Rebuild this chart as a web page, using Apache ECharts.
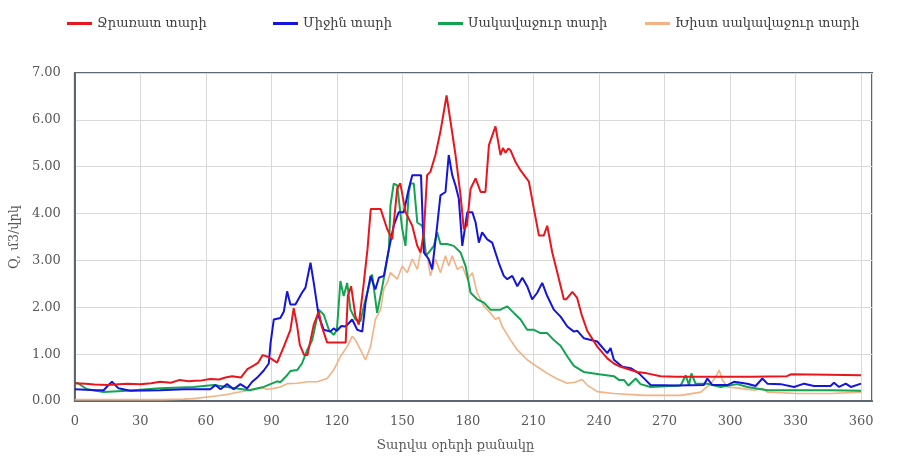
<!DOCTYPE html>
<html><head><meta charset="utf-8">
<script src="https://cdn.jsdelivr.net/npm/echarts@6/dist/echarts.min.js"></script>
<style>html,body{margin:0;padding:0;background:#fff}#c{width:897px;height:463px}</style>
</head><body><div id="c"></div>
<script>
const seriesNames = ['Ջրառատ տարի', 'Միջին տարի', 'Սակավաջուր տարի', 'Խիստ սակավաջուր տարի'];
const xTicks = [0, 30, 60, 90, 120, 150, 180, 210, 240, 270, 300, 330, 360];
const yTicks = [0, 1, 2, 3, 4, 5, 6, 7];

const wetYear = [[0,0.38],[5,0.37],[9,0.35],[15,0.34],[20,0.36],[24,0.37],[30,0.36],[35,0.38],[39,0.41],[44,0.39],[48,0.45],[52,0.42],[55,0.43],[58,0.44],[62,0.47],[66,0.46],[69,0.5],[72,0.53],[76,0.5],[79,0.68],[82,0.76],[84,0.82],[86,0.98],[88,0.95],[90,0.9],[92.6,0.82],[95.7,1.16],[98.7,1.52],[100.2,1.98],[101.8,1.6],[103,1.2],[105,0.98],[106.5,0.98],[109.4,1.63],[111.7,1.91],[113,1.6],[115.5,1.25],[124,1.25],[125,2.24],[126.5,2.45],[128.5,1.8],[130,1.63],[132.3,2.52],[134,3.24],[135.5,4.1],[140,4.1],[143,3.67],[145.3,3.45],[147.6,4.53],[149,4.65],[151.4,4.03],[154.5,3.74],[156.8,3.31],[158.3,3.17],[159.8,3.6],[161.3,4.82],[162.8,4.89],[165.1,5.25],[167.4,5.75],[170.2,6.52],[172,5.97],[174.3,5.25],[176.6,4.39],[178.1,3.67],[179.5,3.75],[181.2,4.53],[183.5,4.75],[185.8,4.46],[188,4.46],[189.6,5.46],[192.6,5.86],[194.9,5.25],[196,5.4],[197.2,5.3],[198.5,5.39],[199.5,5.35],[201.8,5.1],[204.1,4.92],[207.9,4.68],[210.2,4.1],[212.5,3.53],[214.7,3.53],[216.3,3.74],[218.6,3.17],[220.9,2.74],[223.9,2.17],[225,2.17],[227.8,2.33],[230,2.2],[232,1.85],[234.6,1.5],[239.2,1.16],[243.8,0.91],[246.8,0.8],[249.9,0.73],[257.5,0.62],[262,0.59],[268.2,0.53],[275,0.52],[290,0.52],[310,0.52],[326,0.53],[328,0.57],[345,0.56],[360,0.55]];

const averageYear = [[0,0.25],[5,0.24],[10,0.23],[13.2,0.23],[15,0.32],[17,0.41],[20,0.27],[25.4,0.22],[39,0.23],[50,0.25],[62,0.25],[64.4,0.34],[66.7,0.25],[69.7,0.36],[72.7,0.25],[75.8,0.36],[78.9,0.27],[81,0.4],[83.5,0.5],[86.5,0.65],[88.8,0.8],[89.6,1.23],[91.1,1.74],[94.1,1.77],[95.7,1.91],[97.2,2.34],[98.7,2.06],[101,2.06],[104,2.31],[105.6,2.42],[107.9,2.95],[109.4,2.52],[111.7,1.8],[114,1.52],[117,1.48],[118.5,1.55],[120,1.5],[122,1.6],[124,1.59],[127,1.74],[129.3,1.52],[131.6,1.48],[133.1,2.1],[135.4,2.67],[137.6,2.38],[139.2,2.63],[141.5,2.67],[143.8,3.24],[146,3.74],[148.3,4.03],[150.6,4.03],[152.9,4.53],[154.5,4.82],[158.5,4.82],[159.8,3.17],[162,3.03],[163.6,2.81],[165.9,3.74],[167.4,4.39],[169.7,4.46],[171.2,5.25],[172.8,4.82],[174.3,4.6],[175.8,4.32],[177.4,3.31],[179.7,4.03],[182,4.03],[183.5,3.81],[185,3.38],[186.5,3.6],[188.8,3.45],[191.1,3.38],[194.1,2.95],[196.4,2.67],[198,2.6],[200.3,2.67],[202.6,2.45],[204.9,2.63],[207.1,2.45],[209.4,2.17],[211.7,2.31],[214,2.52],[216.3,2.24],[219.3,1.95],[222.4,1.8],[225.5,1.59],[228.5,1.48],[230,1.5],[233,1.34],[239.2,1.27],[243.8,1.02],[245.3,1.13],[246.8,0.88],[250.7,0.73],[254.5,0.7],[258.3,0.59],[261.3,0.45],[263.6,0.34],[275,0.33],[288,0.34],[289.6,0.48],[291.9,0.34],[298.8,0.34],[301.8,0.41],[307.9,0.37],[311.7,0.32],[314.8,0.48],[317.1,0.37],[323.2,0.36],[329.3,0.3],[333.9,0.37],[338.4,0.32],[346,0.32],[347.6,0.39],[349.9,0.3],[353,0.37],[355.3,0.3],[360,0.37]];

const lowWaterYear = [[0,0.36],[1,0.39],[5.6,0.25],[13.2,0.19],[23.9,0.22],[39,0.27],[54.4,0.3],[63.6,0.34],[69.7,0.3],[75,0.26],[80,0.23],[86.5,0.3],[92.6,0.42],[94.1,0.4],[97.2,0.55],[98.7,0.64],[101.8,0.66],[104,0.8],[106.4,1.09],[108.7,1.3],[110.2,1.63],[111.7,1.95],[114,1.84],[116.3,1.52],[118.5,1.41],[120,1.52],[121.6,2.56],[123.1,2.24],[124.7,2.52],[126.2,1.95],[128.5,1.74],[130.8,1.7],[132.3,2.02],[134.6,2.45],[136.1,2.7],[138.4,1.88],[140.7,2.42],[142.2,2.81],[143.8,3.24],[144.5,4.17],[146,4.64],[147.6,4.6],[149.9,3.67],[151.4,3.31],[152.9,4.46],[153.7,4.64],[155.2,4.64],[156.8,3.81],[159,3.74],[159.8,3.6],[160.6,3.1],[162.1,3.17],[164.4,3.31],[165.9,3.6],[167.4,3.35],[170.5,3.35],[173.5,3.31],[176.6,3.17],[178.9,2.88],[181.2,2.31],[184.2,2.17],[187.3,2.1],[190.3,1.95],[194.9,1.95],[198,2.02],[201,1.88],[204.1,1.74],[207.1,1.52],[210.2,1.52],[213.2,1.45],[216.3,1.45],[219.3,1.3],[222.4,1.18],[225.5,0.95],[228.5,0.75],[233,0.62],[240,0.57],[246.8,0.53],[249.1,0.45],[251.4,0.45],[253.5,0.33],[256.8,0.48],[259,0.36],[263.6,0.3],[277.4,0.33],[279.7,0.55],[281.2,0.34],[282.3,0.59],[284.2,0.37],[289.6,0.37],[295.7,0.3],[303.3,0.36],[307.9,0.3],[317.1,0.23],[330.8,0.23],[346,0.23],[360,0.22]];

const veryLowWaterYear = [[0,0.03],[20,0.03],[40,0.03],[50,0.04],[54.4,0.05],[63.6,0.1],[69.7,0.14],[74,0.18],[78.9,0.22],[83.5,0.27],[85,0.29],[88,0.25],[91,0.27],[94,0.3],[97.2,0.37],[101.8,0.38],[106.4,0.41],[111,0.41],[115.5,0.48],[118.5,0.66],[121.6,0.95],[124.7,1.16],[127,1.38],[128.5,1.3],[130.8,1.09],[133.1,0.88],[135.4,1.16],[137.6,1.74],[140,1.95],[141.5,2.4],[143,2.52],[144.5,2.74],[147.6,2.6],[149.9,2.88],[152.2,2.74],[154.5,3.03],[156.8,2.81],[158.3,3.17],[159.8,3.45],[161.3,3.1],[162.8,2.67],[165.1,3.03],[167.4,2.74],[169.7,3.1],[171.2,2.88],[172.8,3.1],[175.1,2.81],[177.4,2.88],[179.7,2.6],[182,2.74],[184.2,2.31],[187.3,2.02],[190.3,1.88],[192.6,1.74],[194.1,1.79],[195.7,1.59],[199.5,1.3],[202.6,1.09],[207.1,0.88],[211.7,0.73],[216.3,0.59],[220.9,0.47],[225.5,0.38],[229,0.4],[232.3,0.46],[234.6,0.34],[239.2,0.2],[246.8,0.16],[260.6,0.12],[277.4,0.12],[286.6,0.19],[291.2,0.37],[293.5,0.52],[295,0.66],[296.5,0.45],[298.8,0.3],[304.9,0.27],[311,0.23],[314.8,0.27],[317.1,0.19],[330.8,0.16],[346,0.16],[360,0.19]];

const colors = ['#e8161d', '#1414dc', '#12a450', '#f4b183'];
const allData = [wetYear, averageYear, lowWaterYear, veryLowWaterYear];
const legendLeft = [62, 268, 433, 640];
const FONT = 'DejaVu Serif';

const chart = echarts.init(document.getElementById('c'), null, {renderer: 'canvas'});
chart.setOption({
  animation: false,
  backgroundColor: '#ffffff',
  legend: seriesNames.map((n, i) => ({
    data: [n], left: legendLeft[i], top: 12,
    icon: 'rect', itemWidth: 25, itemHeight: 3, itemGap: 4,
    textStyle: {fontFamily: FONT, fontSize: 13, color: '#404040'}
  })),
  grid: {left: 74, right: 25, top: 73, bottom: 62, show: true, borderColor: '#5d6770', borderWidth: 2, backgroundColor: 'transparent'},
  xAxis: {
    type: 'value', min: 0, max: 365, interval: 30,
    name: 'Տարվա օրերի քանակը', nameLocation: 'middle', nameGap: 38,
    nameTextStyle: {fontFamily: FONT, fontSize: 13, color: '#595959', padding: [0, 36, 0, 0]},
    axisLine: {show: true, lineStyle: {color: '#5d6770', width: 2}},
    axisTick: {show: false},
    axisLabel: {fontFamily: FONT, fontSize: 13, color: '#595959', margin: 14, showMaxLabel: false,
      formatter: v => (xTicks.indexOf(v) >= 0 ? String(v) : '')},
    splitLine: {show: true, lineStyle: {color: '#d9d9d9', width: 1}}
  },
  yAxis: {
    type: 'value', min: 0, max: 7, interval: 1,
    name: 'Q, մ3/վրկ', nameLocation: 'middle', nameGap: 52,
    nameTextStyle: {fontFamily: FONT, fontSize: 13, color: '#595959'},
    axisLine: {show: true, lineStyle: {color: '#5d6770', width: 2}},
    axisTick: {show: false},
    axisLabel: {fontFamily: FONT, fontSize: 13, color: '#595959', margin: 14,
      formatter: v => (yTicks.indexOf(v) >= 0 ? v.toFixed(2) : '')},
    splitLine: {show: true, lineStyle: {color: '#d9d9d9', width: 1}}
  },
  series: seriesNames.map((n, i) => ({
    name: n, type: 'line', data: allData[i], showSymbol: false, symbol: 'none',
    lineStyle: {color: colors[i], width: i === 3 ? 1.6 : 2},
    itemStyle: {color: colors[i]}, z: 10 - i
  }))
});
</script></body></html>
